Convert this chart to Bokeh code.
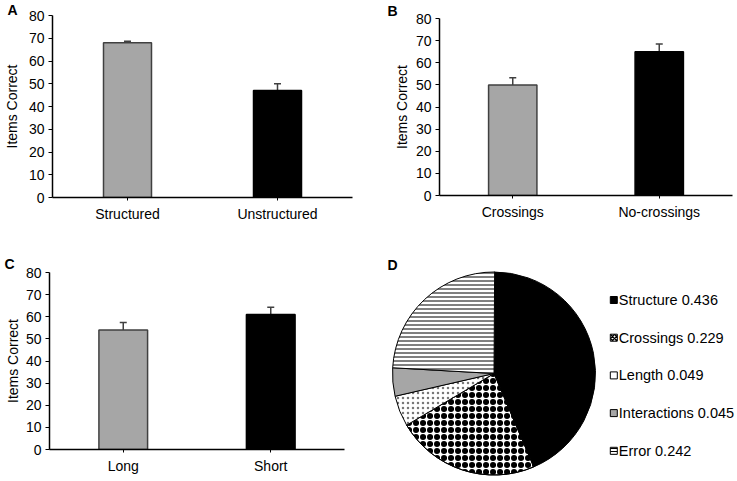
import math
from bokeh.plotting import figure
from bokeh.models import (ColumnDataSource, FactorRange, Range1d, FixedTicker,
                          Whisker, TeeHead, Label, Title)
from bokeh.layouts import row, column
from bokeh.embed import file_html
from bokeh.resources import INLINE
from bokeh.core.properties import value

FONT = "Liberation Sans"

# ---------------- data ----------------
a_categories = ["Structured", "Unstructured"]
a_means = [68, 47]
a_errors = [0.7, 3.0]

b_categories = ["Crossings", "No-crossings"]
b_means = [50, 65]
b_errors = [3.2, 3.5]

c_categories = ["Long", "Short"]
c_means = [54, 61]
c_errors = [3.4, 3.3]

y_ticks = [0, 10, 20, 30, 40, 50, 60, 70, 80]
y_label = "Items Correct"

pie_labels = ["Structure", "Crossings", "Length", "Interactions", "Error"]
pie_values = [0.436, 0.229, 0.049, 0.045, 0.242]

panel_letters = ["A", "B", "C", "D"]

# ---------------- styles ----------------
bar_fill = ["#a6a6a6", "#000000"]
bar_line = ["#404040", "#000000"]


def bar_panel(letter, cats, means, errs, width, height, left, top, fw, fh,
              bar_w, label_standoff, letter_offset, letter_standoff):
    p = figure(x_range=FactorRange(*cats), y_range=Range1d(0, 80),
               width=width, height=height, output_backend="svg",
               toolbar_location=None,
               min_border_left=left, min_border_top=top,
               min_border_right=width - left - fw,
               min_border_bottom=height - top - fh)
    p.title = Title(text=letter, align="left", offset=letter_offset,
                    standoff=letter_standoff, text_font=FONT,
                    text_font_size="14px", text_font_style="bold",
                    text_color="black")
    p.outline_line_color = None
    p.grid.visible = False
    p.background_fill_color = "white"
    p.border_fill_color = "white"

    src = ColumnDataSource(dict(
        cat=cats, mean=means,
        upper=[m + e for m, e in zip(means, errs)],
        fill=bar_fill, line=bar_line))
    p.vbar(x="cat", top="mean", bottom=0, width=bar_w, source=src,
           fill_color="fill", line_color="line", line_width=1.5)
    w = Whisker(source=src, base="cat", upper="upper", lower="mean",
                dimension="height", line_color="#404040", line_width=1.5,
                upper_head=TeeHead(size=7, line_color="#404040", line_width=1.5),
                lower_head=None)
    p.add_layout(w)

    for ax in (p.xaxis[0], p.yaxis[0]):
        ax.axis_line_color = "black"
        ax.axis_line_width = 1.5
        ax.major_tick_line_color = "black"
        ax.major_tick_line_width = 1
        ax.major_tick_in = 0
        ax.minor_tick_line_color = None
        ax.major_label_text_font = FONT
        ax.major_label_text_font_size = "14px"
        ax.major_label_text_color = "black"
    p.yaxis.ticker = FixedTicker(ticks=y_ticks)
    p.yaxis.major_tick_out = 4
    p.yaxis.major_label_standoff = 4
    p.yaxis.axis_label = y_label
    p.yaxis.axis_label_standoff = label_standoff
    p.yaxis.axis_label_text_font = FONT
    p.yaxis.axis_label_text_font_size = "14px"
    p.yaxis.axis_label_text_font_style = "normal"
    p.yaxis.axis_label_text_color = "black"
    p.xaxis.major_tick_out = 3
    p.xaxis.major_label_standoff = 5
    return p


pA = bar_panel(panel_letters[0], a_categories, a_means, a_errors,
               370, 230, 49, 15, 303, 182, 0.32, 6, -45, -4)
pB = bar_panel(panel_letters[1], b_categories, b_means, b_errors,
               367, 230, 69, 18, 293, 177, 0.33, 3, -52, 0)
pC = bar_panel(panel_letters[2], c_categories, c_means, c_errors,
               370, 251, 49, 42, 295, 177, 0.33, 2, -45, 2)

# ---------------- pie panel ----------------
DW, DH = 367, 251
pD = figure(x_range=Range1d(0, DW), y_range=Range1d(0, DH), width=DW, height=DH,
            output_backend="svg", toolbar_location=None,
            x_axis_location=None, y_axis_location=None, min_border=0)
pD.outline_line_color = None
pD.grid.visible = False
pD.background_fill_color = "white"
pD.border_fill_color = "white"

slice_styles = [
    [dict(fill_color="black")],
    [dict(fill_color="white", hatch_pattern="ring", hatch_color="black",
          hatch_scale=7, hatch_weight=2.5),
     dict(fill_alpha=0, hatch_pattern="dot", hatch_color="black",
          hatch_scale=7)],
    [dict(fill_color="white", hatch_pattern="dot", hatch_color="#777777",
          hatch_scale=5, hatch_weight=1)],
    [dict(fill_color="#a6a6a6")],
    [dict(fill_color="white", hatch_pattern="horizontal_line", hatch_color="black",
          hatch_scale=4, hatch_weight=1)],
]
legend_styles = [
    dict(fill_color="black"),
    dict(fill_color="white", hatch_pattern="diagonal_cross", hatch_color="black",
         hatch_scale=4, hatch_weight=1.5),
    dict(fill_color="white"),
    dict(fill_color="#a6a6a6"),
    dict(fill_color="white", hatch_pattern="horizontal_line", hatch_color="black",
         hatch_scale=3, hatch_weight=1),
]

cx, cy, r = 123.5, 108, 101.5
cum = 0.0
for val, layers in zip(pie_values, slice_styles):
    start = math.pi / 2 - 2 * math.pi * cum
    cum += val
    end = math.pi / 2 - 2 * math.pi * cum
    for st in layers:
        pD.wedge(x=cx, y=cy, radius=r, start_angle=start, end_angle=end,
                 direction="clock", line_color="black", line_width=1, **st)

leg_x, leg_y0, leg_dy = 243.3, 181.5, 37.7
leg_ys = [leg_y0 - i * leg_dy for i in range(len(pie_labels))]
for yy, st in zip(leg_ys, legend_styles):
    pD.rect(x=leg_x, y=yy, width=7, height=7, line_color="black",
            line_width=1, **st)
legend_texts = [f"{l} {v:.3f}" for l, v in zip(pie_labels, pie_values)]
pD.text(x=[leg_x + 5] * len(legend_texts), y=leg_ys, text=legend_texts,
        text_baseline="middle", text_align="left", text_font=value(FONT),
        text_font_size="14.5px", text_color="black")

pD.add_layout(Label(x=17, y=224.5, text=panel_letters[3], text_font=FONT,
                    text_font_size="14px", text_font_style="bold",
                    text_baseline="top", text_color="black"))

layout = column(row(column(pA), column(pB)), row(column(pC), column(pD)))
open("out.html", "w").write(file_html(layout, INLINE))
